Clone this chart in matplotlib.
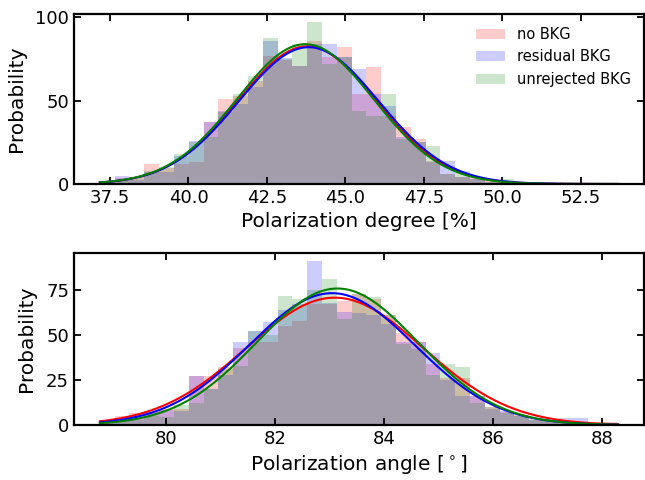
import numpy as np
from matplotlib import pyplot as plt
from matplotlib.ticker import MultipleLocator

# binning of the two histograms (35 bins over the data range)
deg_range = (37.18, 53.68)
ang_range = (78.79, 88.30)
n_bins = 35

labels = ['no BKG', 'residual BKG', 'unrejected BKG']
colors = ['r', 'b', 'g']

# polarization degree histograms, one value per bin
deg_nobkg = [1.5, 3.5, 4, 12, 9.5, 12, 13, 37, 51, 53, 62, 77, 74.5, 71, 86, 76, 82,
             54, 70, 41, 34, 27, 14, 6, 4, 4, 1.5, 1, 0.5, 0.3, 0.2, 0.2, 0.1, 0, 0.1]
deg_resid = [1, 5, 2.5, 7, 7, 17, 26, 37, 44, 48, 58, 86, 75.5, 71, 84, 84, 76,
             69, 54, 47, 28, 25, 13, 14, 4, 3, 1, 0.8, 0.5, 0.3, 0.2, 0.1, 0.1, 0.1, 0]
deg_unrej = [1, 2.5, 4, 8, 10, 18, 25, 28, 43, 54, 65, 87.5, 75, 84, 97, 72, 76,
             44, 41, 54, 27, 25, 23, 6, 8, 3, 1, 3, 0.5, 0.3, 0.2, 0.1, 0.1, 0, 0]

# polarization angle histograms
ang_nobkg = [2.5, 5, 6.5, 8, 9, 9, 27, 27, 32, 43, 46, 46, 55, 58, 67, 67, 69, 73,
             70, 61, 51, 46, 34, 26, 26, 16, 10, 7, 5.7, 3, 2.6, 2, 1.5, 1.2, 1.7]
ang_resid = [2, 3.5, 5, 7, 8.5, 8, 27, 20, 28, 46, 52, 57, 64, 67, 91, 68, 63, 62,
             61, 56, 46, 46, 40, 25, 16, 16, 9, 7.6, 5, 3, 2, 3.9, 3.9, 1, 0.5]
ang_unrej = [1.5, 2.5, 3, 5, 4.5, 11, 12, 20, 31, 33, 52, 50, 72, 70, 75, 81, 59, 73,
             71, 61, 45, 42, 28, 34, 32, 12, 10, 6.7, 5, 3.3, 2, 1.5, 1, 0.8, 0.5]

# gaussian fits: (mean, sigma, amplitude)
deg_fits = [(43.78, 2.20, 82.5), (43.83, 2.22, 82.0), (43.72, 2.18, 83.8)]
ang_fits = [(83.10, 1.62, 70.8), (83.05, 1.52, 73.3), (83.15, 1.48, 75.9)]

plt.rcParams['font.family'] = 'DejaVu Sans'


def panel(ax, rng, hists, fits, xlabel):
    edges = np.linspace(rng[0], rng[1], n_bins + 1)
    centers = 0.5 * (edges[1:] + edges[:-1])
    for h, c, lab in zip(hists, colors, labels):
        ax.hist(centers, bins=edges, weights=h, color=c, alpha=0.2, label=lab)
    xs = np.linspace(rng[0], rng[1], 400)
    for (mu, sig, amp), c in zip(fits, colors):
        ax.plot(xs, amp * np.exp(-(xs - mu)**2 / (2 * sig**2)), '-', color=c, linewidth=1.5)
    ax.set_xlabel(xlabel, fontsize=14.5)
    ax.set_ylabel('Probability', fontsize=14.5, labelpad=7)
    ax.tick_params(direction='in', top=True, right=True, labelsize=13,
                   length=5, width=1.3)
    for s in ax.spines.values():
        s.set_linewidth(1.6)


fig = plt.figure(figsize=(6.45, 4.8), dpi=100)
ax1 = fig.add_axes([0.1147, 0.6167, 0.8837, 0.354])
ax2 = fig.add_axes([0.1147, 0.1146, 0.8837, 0.358])

panel(ax1, deg_range, [deg_nobkg, deg_resid, deg_unrej], deg_fits,
      'Polarization degree [%]')
ax1.xaxis.set_major_locator(MultipleLocator(2.5))
ax1.yaxis.set_major_locator(MultipleLocator(50))
ax1.legend(loc='upper right', frameon=False, fontsize=10.5)

panel(ax2, ang_range, [ang_nobkg, ang_resid, ang_unrej], ang_fits,
      'Polarization angle [$^\\circ$]')
ax2.xaxis.set_major_locator(MultipleLocator(2))
ax2.yaxis.set_major_locator(MultipleLocator(25))

fig.savefig('out.png', dpi=100)
